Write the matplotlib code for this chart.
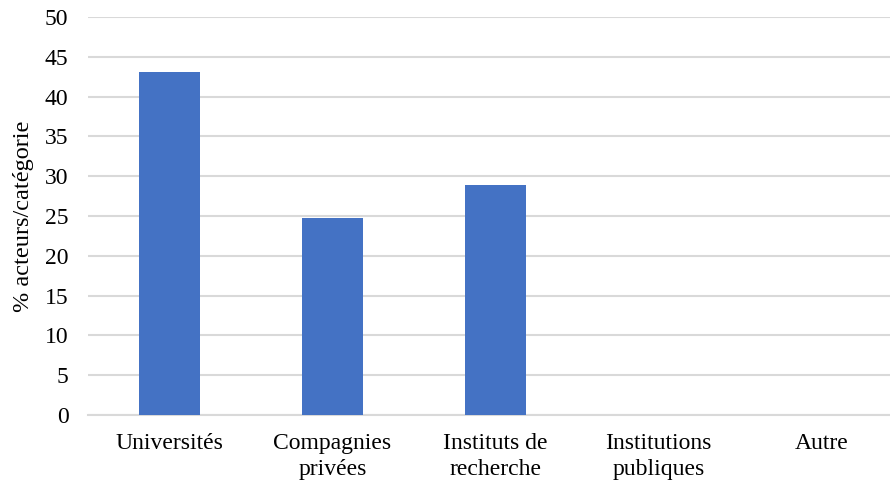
import matplotlib.pyplot as plt

categories = ['Universités', 'Compagnies\nprivées', 'Instituts de\nrecherche',
              'Institutions\npubliques', 'Autre']
values = [43.1, 24.8, 28.9, 0, 0]
yticks = [0, 5, 10, 15, 20, 25, 30, 35, 40, 45, 50]

plt.rcParams['font.family'] = ['Liberation Serif', 'DejaVu Serif']

fig = plt.figure(figsize=(8.9, 4.83), dpi=100)
ax = fig.add_axes([88 / 890, 1 - 415 / 483, 815 / 890, 398 / 483])

x = list(range(len(categories)))
ax.bar(x, values, width=0.375, color='#4472C4', zorder=3)

ax.set_xlim(-0.5, len(categories) - 0.5)
ax.set_ylim(0, 50)
ax.set_yticks(yticks)
ax.set_xticks(x)
ax.set_xticklabels(categories, fontsize=17, linespacing=1.3)
ax.tick_params(axis='y', labelsize=17, length=0, pad=14)
ax.tick_params(axis='x', length=0, pad=13)

ax.grid(axis='y', color='#d9d9d9', linewidth=1.5, zorder=0)
for s in ['top', 'right', 'left']:
    ax.spines[s].set_visible(False)
ax.spines['bottom'].set_color('#d9d9d9')
ax.spines['bottom'].set_linewidth(1.5)

ax.set_ylabel('% acteurs/catégorie', fontsize=17.5, labelpad=8)

fig.savefig('out.png', dpi=100)
